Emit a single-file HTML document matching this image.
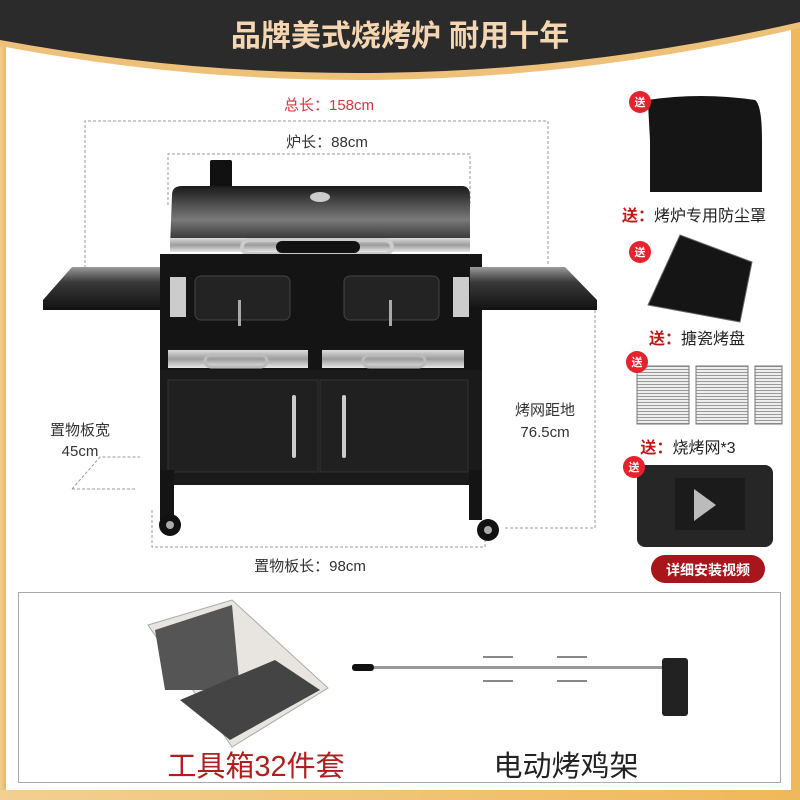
<!DOCTYPE html>
<html><head><meta charset="utf-8"><style>
html,body{margin:0;padding:0;background:#fff;}
svg{display:block;font-family:"Liberation Sans","Noto Sans CJK SC",sans-serif;}
</style></head><body>
<svg width="800" height="800" viewBox="0 0 800 800" xmlns="http://www.w3.org/2000/svg">
<defs>
<linearGradient id="gold" x1="0" y1="0" x2="1" y2="0"><stop offset="0" stop-color="#f2cf92"/><stop offset="1" stop-color="#efb85a"/></linearGradient>
<linearGradient id="lid" x1="0" y1="0" x2="0" y2="1"><stop offset="0" stop-color="#1a1a1a"/><stop offset="0.55" stop-color="#7a7a7a"/><stop offset="1" stop-color="#1c1c1c"/></linearGradient>
<linearGradient id="steel" x1="0" y1="0" x2="0" y2="1"><stop offset="0" stop-color="#dcdcdc"/><stop offset="0.5" stop-color="#9c9c9c"/><stop offset="1" stop-color="#e6e6e6"/></linearGradient>
<linearGradient id="shelf" x1="0" y1="0" x2="0" y2="1"><stop offset="0" stop-color="#9a9a9a"/><stop offset="0.35" stop-color="#3a3a3a"/><stop offset="1" stop-color="#111"/></linearGradient>
<pattern id="grate" width="4" height="3" patternUnits="userSpaceOnUse"><rect width="4" height="3" fill="#eee"/><rect width="4" height="1" fill="#999"/></pattern>
</defs>
<rect width="800" height="800" fill="#fff"/>
<rect x="0" y="0" width="6" height="800" fill="url(#gold)"/>
<rect x="791" y="0" width="9" height="800" fill="#efb85a"/>
<rect x="0" y="790" width="800" height="10" fill="url(#gold)"/>
<path d="M0 0H800V28Q400 122 0 46Z" fill="#eec17a"/>
<path d="M0 0H800V22Q400 114 0 40Z" fill="#2b2b2b"/>
<text x="400" y="46" text-anchor="middle" font-size="30" font-weight="bold" fill="#f5d6b2">品牌美式烧烤炉 耐用十年</text>

<g fill="none" stroke="#999" stroke-width="1" stroke-dasharray="3,2">
<path d="M85 268V121H548V265"/>
<path d="M168 205V154H470V205"/>
<path d="M595 300V528H505"/>
<path d="M152 510V547H485V535"/>
<path d="M72 489H135M72 489L100 457H140"/>
</g>
<text x="329" y="110" text-anchor="middle" font-size="15" fill="#d8323a">总长：158cm</text>
<text x="327" y="147" text-anchor="middle" font-size="15" fill="#333">炉长：88cm</text>
<text x="80" y="435" text-anchor="middle" font-size="15" fill="#333">置物板宽</text>
<text x="80" y="456" text-anchor="middle" font-size="15" fill="#333">45cm</text>
<text x="545" y="415" text-anchor="middle" font-size="15" fill="#333">烤网距地</text>
<text x="545" y="437" text-anchor="middle" font-size="15" fill="#333">76.5cm</text>
<text x="310" y="571" text-anchor="middle" font-size="15" fill="#333">置物板长：98cm</text>

<rect x="210" y="160" width="22" height="30" fill="#111" rx="2"/>
<path d="M172 195Q172 186 182 186H462Q470 186 470 196V247H170Z" fill="url(#lid)"/>
<ellipse cx="320" cy="197" rx="10" ry="5" fill="#ccc"/>
<rect x="170" y="238" width="300" height="14" fill="url(#steel)"/>
<rect x="242" y="240" width="150" height="14" rx="7" fill="none" stroke="#ccc" stroke-width="4"/>
<rect x="276" y="241" width="84" height="12" rx="6" fill="#111"/>
<rect x="160" y="254" width="322" height="125" fill="#141414"/>
<path d="M43 300L72 267H160V310H43Z" fill="url(#shelf)"/>
<path d="M470 267H565L597 300V310H470Z" fill="url(#shelf)"/>
<rect x="195" y="276" width="95" height="44" rx="6" fill="#232323" stroke="#444"/>
<rect x="344" y="276" width="95" height="44" rx="6" fill="#232323" stroke="#444"/>
<rect x="238" y="300" width="3" height="26" fill="#aaa"/><rect x="389" y="300" width="3" height="26" fill="#aaa"/>
<rect x="170" y="277" width="16" height="40" fill="#ccc"/><rect x="453" y="277" width="16" height="40" fill="#ccc"/>
<rect x="168" y="350" width="140" height="18" fill="url(#steel)"/>
<rect x="322" y="350" width="142" height="18" fill="url(#steel)"/>
<rect x="205" y="355" width="62" height="12" rx="6" fill="none" stroke="#bbb" stroke-width="3"/>
<rect x="363" y="355" width="62" height="12" rx="6" fill="none" stroke="#bbb" stroke-width="3"/>
<rect x="160" y="370" width="322" height="115" fill="#1a1a1a"/>
<rect x="168" y="380" width="150" height="92" fill="#202020" stroke="#333"/>
<rect x="320" y="380" width="148" height="92" fill="#202020" stroke="#333"/>
<rect x="292" y="395" width="4" height="63" rx="2" fill="#ccc"/>
<rect x="342" y="395" width="4" height="63" rx="2" fill="#ccc"/>
<rect x="160" y="470" width="14" height="50" fill="#141414"/><rect x="469" y="470" width="13" height="50" fill="#141414"/>
<circle cx="170" cy="525" r="11" fill="#111"/><circle cx="170" cy="525" r="4" fill="#aaa"/>
<circle cx="488" cy="530" r="11" fill="#111"/><circle cx="488" cy="530" r="4" fill="#aaa"/>

<path d="M648 100Q700 92 755 100Q762 105 762 140V192H650V140Q648 105 648 100Z" fill="#151515"/>
<text x="694" y="221" text-anchor="middle" font-size="16" fill="#222"><tspan fill="#c01818" font-weight="bold">送：</tspan>烤炉专用防尘罩</text>
<path d="M680 235L752 262L740 322L648 305Z" fill="#151515" stroke="#666"/>
<text x="697" y="344" text-anchor="middle" font-size="16" fill="#222"><tspan fill="#c01818" font-weight="bold">送：</tspan>搪瓷烤盘</text>
<rect x="637" y="366" width="52" height="58" fill="url(#grate)" stroke="#777"/>
<rect x="696" y="366" width="52" height="58" fill="url(#grate)" stroke="#777"/>
<rect x="755" y="366" width="27" height="58" fill="url(#grate)" stroke="#777"/>
<text x="688" y="453" text-anchor="middle" font-size="16" fill="#222"><tspan fill="#c01818" font-weight="bold">送：</tspan>烧烤网*3</text>
<rect x="637" y="465" width="136" height="82" rx="8" fill="#262626"/>
<rect x="675" y="478" width="70" height="52" fill="#1b1b1b"/>
<path d="M694 489L716 505L694 521Z" fill="#bbb"/>
<rect x="651" y="555" width="114" height="28" rx="14" fill="#a8151b"/>
<text x="708" y="575" text-anchor="middle" font-size="14" font-weight="bold" fill="#fff">详细安装视频</text>
<g fill="#e5222e">
<circle cx="640" cy="102" r="11"/><circle cx="640" cy="252" r="11"/><circle cx="637" cy="362" r="11"/><circle cx="634" cy="467" r="11"/>
</g>
<g font-size="11" font-weight="bold" fill="#fff" text-anchor="middle">
<text x="640" y="106">送</text><text x="640" y="256">送</text><text x="637" y="366">送</text><text x="634" y="471">送</text>
</g>

<rect x="18.5" y="592.5" width="762" height="190" fill="#fff" stroke="#aaa"/>
<path d="M148 625L232 600L328 688L232 747Z" fill="#e8e4e0" stroke="#aaa"/>
<path d="M155 630L232 605L240 690L165 690Z" fill="#555"/>
<path d="M180 700L275 660L320 690L230 740Z" fill="#444"/>
<rect x="352" y="664" width="22" height="7" rx="3" fill="#111"/>
<rect x="374" y="666" width="290" height="3" fill="#999"/>
<rect x="483" y="656" width="30" height="2" fill="#888"/><rect x="483" y="680" width="30" height="2" fill="#888"/>
<rect x="557" y="656" width="30" height="2" fill="#888"/><rect x="557" y="680" width="30" height="2" fill="#888"/>
<rect x="662" y="658" width="26" height="58" rx="3" fill="#222"/>
<text x="256" y="776" text-anchor="middle" font-size="29" fill="#b01e1e">工具箱32件套</text>
<text x="566" y="776" text-anchor="middle" font-size="29" fill="#222">电动烤鸡架</text>
</svg>
</body></html>
